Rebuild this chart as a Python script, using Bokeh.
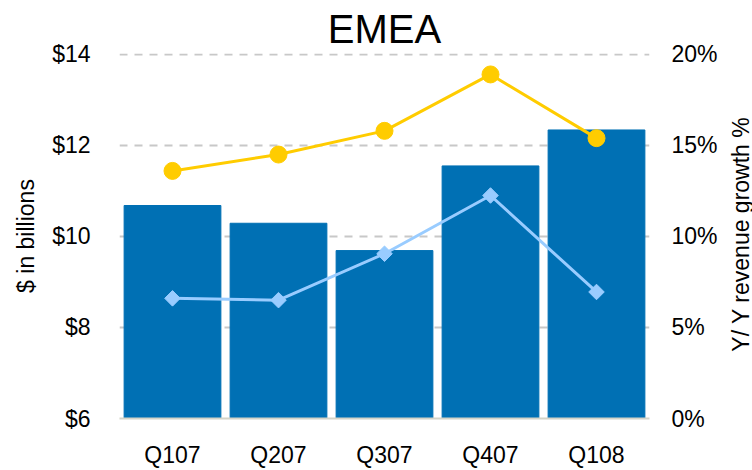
import math
from bokeh.plotting import figure
from bokeh.layouts import row
from bokeh.models import (Range1d, LinearAxis, FixedTicker, PrintfTickFormatter,
                          ColumnDataSource)
from bokeh.core.properties import value
from bokeh.embed import file_html
from bokeh.resources import INLINE

# ---- data ----
quarters = ["Q107", "Q207", "Q307", "Q407", "Q108"]
revenue_bn = [10.68, 10.29, 9.69, 11.55, 12.34]          # bars, $ in billions
growth_yellow = [13.6, 14.5, 15.8, 18.9, 15.4]          # Y/Y %, yellow line
growth_blue = [6.6, 6.5, 9.05, 12.25, 6.95]             # Y/Y %, light blue line
left_ticks = [6, 8, 10, 12, 14]
right_ticks = [0, 5, 10, 15, 20]
title_text = "EMEA"
left_label = "$ in billions"
right_label = "Y/ Y revenue growth %"

FONT = "Liberation Sans"
BAR = "#0070B4"
YELLOW = "#FFCC00"
LBLUE = "#99CCFF"

src = ColumnDataSource(dict(q=quarters, rev=revenue_bn, gy=growth_yellow, gb=growth_blue))

W, H = 752, 470
W2 = 24                      # strip for the right-hand axis title
W1 = W - W2
FL, FR, FT, FB = 119, 649, 53, 419
TOP_PAD = 1.0025  # keeps the top gridline inside the frame
p = figure(x_range=quarters, y_range=Range1d(6, 6 + 8 * TOP_PAD), width=W1, height=H,
           output_backend="svg", toolbar_location=None,
           min_border_left=FL, min_border_right=W1 - FR,
           min_border_top=FT, min_border_bottom=H - FB)
p.extra_y_ranges = {"pct": Range1d(0, 20 * TOP_PAD)}
p.outline_line_color = None
p.background_fill_color = "white"
p.border_fill_color = "white"

# title
p.title.text = title_text
p.title.align = "center"
p.title.text_font = FONT
p.title.text_font_size = "40px"
p.title.text_font_style = "normal"
p.title.text_color = "black"
p.title.standoff = 5
p.title.offset = 4

# bars
p.vbar(x="q", top="rev", bottom=6, width=0.913, color=BAR, source=src)

# lines
p.line(x="q", y="gy", y_range_name="pct", line_color=YELLOW, line_width=3, source=src)
p.scatter(x="q", y="gy", y_range_name="pct", marker="circle", size=17,
          fill_color=YELLOW, line_color=YELLOW, source=src)
p.line(x="q", y="gb", y_range_name="pct", line_color=LBLUE, line_width=3, source=src)
p.scatter(x="q", y="gb", y_range_name="pct", marker="square", angle=math.pi / 4, size=11,
          fill_color=LBLUE, line_color=LBLUE, source=src)

# grid
p.xgrid.visible = False
p.ygrid.ticker = FixedTicker(ticks=left_ticks[1:])
p.ygrid.grid_line_color = "#c8c8c8"
p.ygrid.grid_line_width = 2
p.ygrid.grid_line_dash = "8 7"

# left axis
la = p.yaxis[0]
la.ticker = FixedTicker(ticks=left_ticks)
la.formatter = PrintfTickFormatter(format="$%d")
la.axis_line_color = None
la.major_tick_line_color = None
la.minor_tick_line_color = None
la.major_label_standoff = 23
la.major_label_text_font = FONT
la.major_label_text_font_size = "23px"
la.major_label_text_color = "black"
la.axis_label = left_label
la.axis_label_text_font = FONT
la.axis_label_text_font_size = "23px"
la.axis_label_text_font_style = "normal"
la.axis_label_text_color = "black"
la.axis_label_standoff = 10

# right axis (ticks only)
ra = LinearAxis(y_range_name="pct", ticker=FixedTicker(ticks=right_ticks),
                formatter=PrintfTickFormatter(format="%d%%"))
ra.axis_line_color = None
ra.major_tick_line_color = None
ra.minor_tick_line_color = None
ra.major_label_standoff = 16
ra.major_label_text_font = FONT
ra.major_label_text_font_size = "23px"
ra.major_label_text_color = "black"
p.add_layout(ra, "right")

# bottom axis
xa = p.xaxis[0]
xa.axis_line_color = "#d4d4c8"
xa.axis_line_width = 2
xa.major_tick_line_color = None
xa.minor_tick_line_color = None
xa.major_label_standoff = 17
xa.major_label_text_font = FONT
xa.major_label_text_font_size = "23px"
xa.major_label_text_color = "black"

# narrow strip holding the right axis title, reading bottom-to-top
p2 = figure(width=W2, height=H, x_range=Range1d(0, 1), y_range=Range1d(0, 1),
            output_backend="svg", toolbar_location=None,
            x_axis_location=None, y_axis_location=None,
            min_border=0, min_border_left=0, min_border_right=0,
            min_border_top=0, min_border_bottom=0)
try:
    p2.title = None
except Exception:
    p2.title.visible = False
p2.outline_line_color = None
p2.xgrid.visible = False
p2.ygrid.visible = False
p2.background_fill_color = "white"
p2.border_fill_color = "white"
p2.text(x=[0.5], y=[(H - 232.5) / H], text=[right_label], angle=math.pi / 2,
        text_align="center", text_baseline="middle",
        text_font=value(FONT), text_font_size="23px", text_color="black")

layout = row(p, p2, spacing=0)
open("out.html", "w").write(file_html(layout, INLINE))
